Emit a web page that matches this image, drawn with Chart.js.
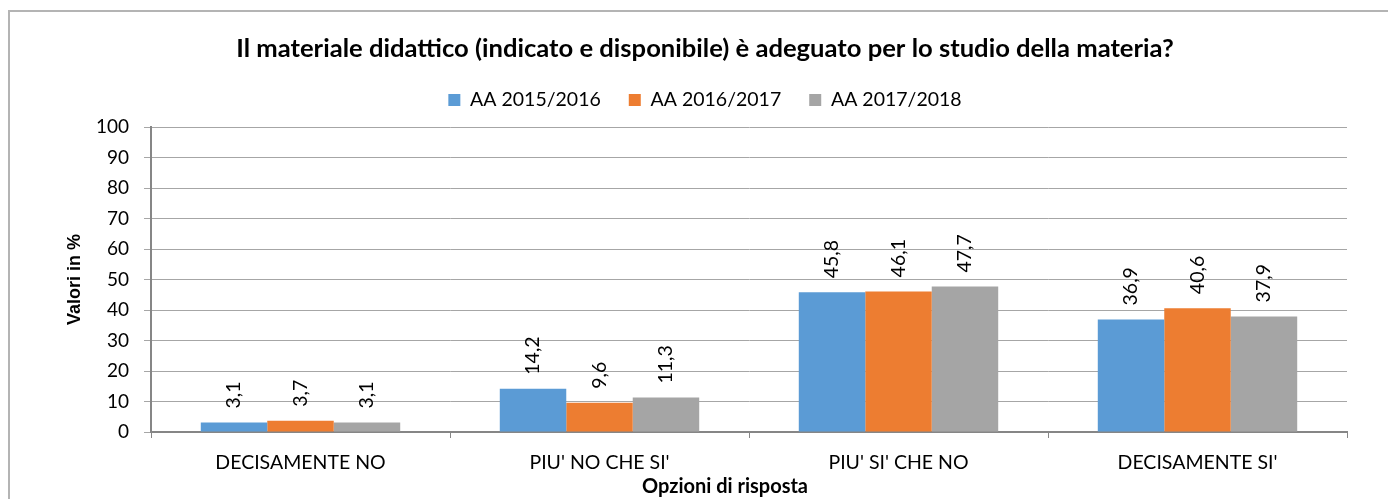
<!DOCTYPE html>
<html>
<head>
<meta charset="utf-8">
<script src="https://cdn.jsdelivr.net/npm/chart.js@4/dist/chart.umd.min.js"></script>
<style>
  html, body { margin: 0; padding: 0; background: #fff; overflow: hidden; }
  #wrap { position: relative; width: 1388px; height: 499px; }
  #frame {
    position: absolute; left: 8px; top: 10px; width: 1400px; height: 500px;
    border-left: 2px solid #b4b4b4; border-top: 2px solid #b4b4b4;
  }
  #chart { position: absolute; left: 0; top: 0; }
</style>
</head>
<body>
<div id="wrap">
  <div id="frame"></div>
  <canvas id="chart" width="1388" height="499"></canvas>
</div>
<script>
const categories = ["DECISAMENTE NO", "PIU' NO CHE SI'", "PIU' SI' CHE NO", "DECISAMENTE SI'"];
const seriesNames = ["AA 2015/2016", "AA 2016/2017", "AA 2017/2018"];
const aa2015 = [3.1, 14.2, 45.8, 36.9];
const aa2016 = [3.7, 9.6, 46.1, 40.6];
const aa2017 = [3.1, 11.3, 47.7, 37.9];
const yTicks = [0, 10, 20, 30, 40, 50, 60, 70, 80, 90, 100];
const xTitle = 'Opzioni di risposta';

const colors = ['#5b9bd5', '#ed7d31', '#a5a5a5'];
const FONT = 'Lato';

// numbers above the bars, turned on their side like in the original,
// plus the x axis title which sits a bit left of the plot centre
const valueLabels = {
  id: 'valueLabels',
  afterDatasetsDraw(chart) {
    const ctx = chart.ctx;
    ctx.save();
    ctx.font = '19.5px ' + FONT;
    ctx.fillStyle = '#000';
    ctx.textAlign = 'left';
    ctx.textBaseline = 'middle';
    chart.data.datasets.forEach((ds, i) => {
      chart.getDatasetMeta(i).data.forEach((bar, j) => {
        ctx.save();
        ctx.translate(bar.x, bar.y - 14);
        ctx.rotate(-Math.PI / 2);
        ctx.fillText(ds.data[j].toFixed(1).replace('.', ','), 0, 0);
        ctx.restore();
      });
    });
    ctx.restore();
  },
  afterDraw(chart) {
    const ctx = chart.ctx;
    const x = chart.scales.x;
    ctx.save();
    ctx.font = 'bold 20px ' + FONT;
    ctx.fillStyle = '#000';
    ctx.textAlign = 'center';
    ctx.textBaseline = 'middle';
    ctx.fillText(xTitle, (x.left + x.right) / 2 - 24, x.bottom - 12);
    ctx.restore();
  }
};

Chart.defaults.color = '#000';
Chart.defaults.font.family = FONT;

const ctx = document.getElementById('chart').getContext('2d');
new Chart(ctx, {
  type: 'bar',
  data: {
    labels: categories,
    datasets: [
      { label: seriesNames[0], data: aa2015, backgroundColor: colors[0] },
      { label: seriesNames[1], data: aa2016, backgroundColor: colors[1] },
      { label: seriesNames[2], data: aa2017, backgroundColor: colors[2] }
    ]
  },
  options: {
    responsive: false,
    animation: false,
    categoryPercentage: 0.667,
    barPercentage: 1,
    layout: { padding: { left: 63, right: 41, top: 0, bottom: 0 } },
    plugins: {
      tooltip: { enabled: false },
      title: {
        display: true,
        text: 'Il materiale didattico (indicato e disponibile) è adeguato per lo studio della materia?',
        font: { family: FONT, size: 25.6, weight: 'bold', lineHeight: 1 },
        color: '#000',
        padding: { top: 36.2, bottom: 0.45 }
      },
      legend: {
        display: true,
        labels: {
          boxWidth: 12,
          boxHeight: 12,
          padding: 28,
          font: { family: FONT, size: 19.5 },
          color: '#000'
        }
      }
    },
    scales: {
      spacer: {
        type: 'category',
        position: 'top',
        grid: { display: false },
        border: { display: false },
        ticks: { display: false },
        afterFit(s) { s.height = 7.25; }
      },
      x: {
        grid: {
          offset: true,
          drawOnChartArea: false,
          tickLength: 6,
          color: '#868686'
        },
        border: { color: '#868686', width: 2 },
        ticks: { font: { family: FONT, size: 19.5 }, padding: 13, color: '#000' },
        afterFit(s) { s.height = 67; }
      },
      y: {
        min: 0,
        max: 100,
        afterBuildTicks(s) { s.ticks = yTicks.map(v => ({ value: v })); },
        grid: { color: '#a6a6a6', tickLength: 7, tickColor: '#a6a6a6' },
        border: { color: '#868686', width: 2 },
        ticks: { font: { family: FONT, size: 19 }, padding: 15, color: '#000' },
        title: {
          display: true,
          text: 'Valori in %',
          font: { family: 'Liberation Sans', size: 18, weight: 'bold' },
          color: '#000',
          padding: { top: 1.2, bottom: 0 }
        },
        afterFit(s) { s.width = 88; }
      }
    }
  },
  plugins: [valueLabels]
});
</script>
</body>
</html>
